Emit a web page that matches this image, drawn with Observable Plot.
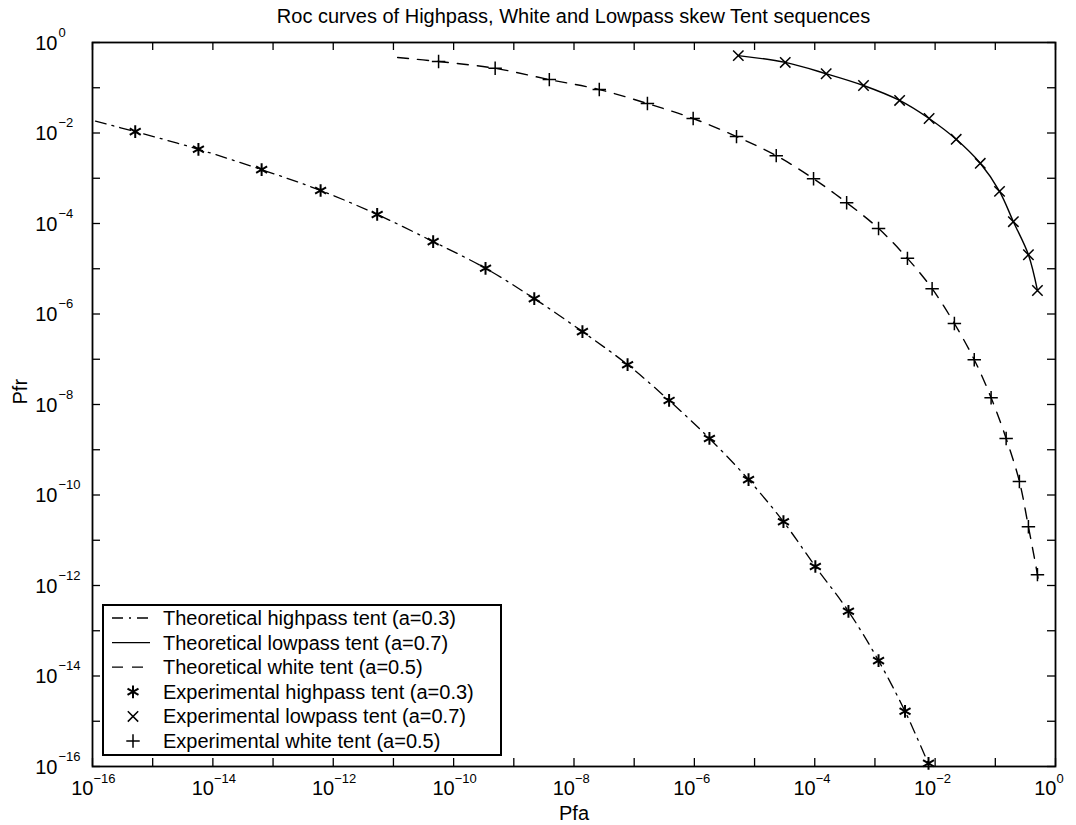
<!DOCTYPE html>
<html><head><meta charset="utf-8">
<script src="https://cdn.jsdelivr.net/npm/d3@7"></script>
<script src="https://cdn.jsdelivr.net/npm/@observablehq/plot@0.6"></script>
<style>
body{margin:0;background:#fff;}
#wrap{position:relative;width:1076px;height:825px;font-family:"Liberation Sans",Arial,Helvetica,sans-serif;color:#000;}
#title{position:absolute;left:0;top:6px;width:1147px;text-align:center;font-size:20px;line-height:20px;white-space:nowrap;}
#chart{position:absolute;left:0;top:0;}
#legend{position:absolute;left:102px;top:604px;}
</style></head>
<body>
<div id="wrap">
  <div id="chart"></div>
  <div id="title">Roc curves of Highpass, White and Lowpass skew Tent sequences</div>
  <div id="legend"></div>
</div>
<script>
// ---- data (log10 values) ----
const titleText = "Roc curves of Highpass, White and Lowpass skew Tent sequences";
const xLabel = "Pfa";
const yLabel = "Pfr";

const highExpPfa = [-15.29,-14.24,-13.19,-12.21,-11.27,-10.34,-9.47,-8.66,-7.86,-7.11,-6.42,-5.75,-5.10,-4.52,-3.99,-3.44,-2.94,-2.50,-2.11];
const highExpPfr = [-1.97,-2.36,-2.81,-3.27,-3.80,-4.40,-4.99,-5.66,-6.39,-7.12,-7.91,-8.75,-9.66,-10.59,-11.58,-12.57,-13.66,-14.78,-15.93];
const highTheoPfa = [-15.95,-15.29,-14.24,-13.19,-12.21,-11.27,-10.34,-9.47,-8.66,-7.86,-7.11,-6.42,-5.75,-5.10,-4.52,-3.99,-3.44,-2.94,-2.50,-2.11,-2.08];
const highTheoPfr = [-1.74,-1.97,-2.36,-2.81,-3.27,-3.80,-4.40,-4.99,-5.66,-6.39,-7.12,-7.91,-8.75,-9.66,-10.59,-11.58,-12.57,-13.66,-14.78,-15.93,-16.0];

const lowExpPfa = [-5.27,-4.49,-3.81,-3.19,-2.59,-2.10,-1.65,-1.25,-0.93,-0.70,-0.45,-0.30];
const lowExpPfr = [-0.29,-0.44,-0.69,-0.95,-1.28,-1.68,-2.14,-2.67,-3.29,-3.96,-4.69,-5.48];
const lowTheoPfa = [-5.27,-4.49,-3.81,-3.19,-2.59,-2.10,-1.65,-1.25,-0.93,-0.70,-0.45,-0.30];
const lowTheoPfr = [-0.29,-0.44,-0.69,-0.95,-1.28,-1.68,-2.14,-2.67,-3.29,-3.96,-4.69,-5.48];

const whiteExpPfa = [-10.25,-9.31,-8.41,-7.58,-6.78,-6.02,-5.30,-4.64,-4.02,-3.47,-2.94,-2.46,-2.05,-1.68,-1.35,-1.07,-0.82,-0.60,-0.45,-0.30];
const whiteExpPfr = [-0.42,-0.57,-0.82,-1.04,-1.35,-1.68,-2.08,-2.50,-3.01,-3.54,-4.11,-4.77,-5.44,-6.21,-7.01,-7.85,-8.75,-9.70,-10.70,-11.76];
const whiteTheoPfa = [-10.93,-10.25,-9.31,-8.41,-7.58,-6.78,-6.02,-5.30,-4.64,-4.02,-3.47,-2.94,-2.46,-2.05,-1.68,-1.35,-1.07,-0.82,-0.60,-0.45,-0.30,-0.29];
const whiteTheoPfr = [-0.33,-0.42,-0.57,-0.82,-1.04,-1.35,-1.68,-2.08,-2.50,-3.01,-3.54,-4.11,-4.77,-5.44,-6.21,-7.01,-7.85,-8.75,-9.70,-10.70,-11.76,-11.85];

const decades = [-16,-15,-14,-13,-12,-11,-10,-9,-8,-7,-6,-5,-4,-3,-2,-1,0];
const labelDecades = [-16,-14,-12,-10,-8,-6,-4,-2,0];

const legendLabels = [
  "Theoretical highpass tent (a=0.3)",
  "Theoretical lowpass tent (a=0.7)",
  "Theoretical white tent (a=0.5)",
  "Experimental highpass tent (a=0.3)",
  "Experimental lowpass tent (a=0.7)",
  "Experimental white tent (a=0.5)"
];

// ---- build tables ----
const toRows = (xs, ys) => xs.map((v, i) => ({pfa: 10 ** v, pfr: 10 ** ys[i]}));
const highExp = toRows(highExpPfa, highExpPfr);
const highTheo = toRows(highTheoPfa, highTheoPfr);
const lowExp = toRows(lowExpPfa, lowExpPfr);
const lowTheo = toRows(lowTheoPfa, lowTheoPfr);
const whiteExp = toRows(whiteExpPfa, whiteExpPfr);
const whiteTheo = toRows(whiteTheoPfa, whiteTheoPfr);

// ---- styles ----
const W = 1076, H = 825, mL = 92, mR = 21, mT = 42, mB = 59;
const plotW = W - mL - mR, plotH = H - mT - mB;
const tickLen = 8;
const FONT = '"Liberation Sans", Arial, Helvetica, sans-serif';
const dashHigh = "11,6,2,6";
const dashWhite = "11,9";
const sym = {asterisk: 6, times: 4.8, plus: 4.4};
const expText = e => (e < 0 ? "\u2212" + (-e) : String(e));

const chart = Plot.plot({
  width: W, height: H,
  marginLeft: mL, marginRight: mR, marginTop: mT, marginBottom: mB,
  x: {type: "log", domain: [1e-16, 1], axis: null},
  y: {type: "log", domain: [1e-16, 1], axis: null},
  style: {fontFamily: FONT, color: "black", background: "white", overflow: "visible"},
  marks: [
    // inward ticks
    Plot.ruleX(decades, {x: d => 10 ** d, insetTop: plotH - tickLen, stroke: "black", strokeWidth: 1.3}),
    Plot.ruleX(decades, {x: d => 10 ** d, insetBottom: plotH - tickLen, stroke: "black", strokeWidth: 1.3}),
    Plot.ruleY(decades, {y: d => 10 ** d, insetRight: plotW - tickLen, stroke: "black", strokeWidth: 1.3}),
    Plot.ruleY(decades, {y: d => 10 ** d, insetLeft: plotW - tickLen, stroke: "black", strokeWidth: 1.3}),
    Plot.frame({stroke: "black", strokeWidth: 1.8}),
    // theoretical curves
    Plot.line(highTheo, {x: "pfa", y: "pfr", stroke: "black", strokeWidth: 1.3, strokeDasharray: dashHigh, curve: "catmull-rom"}),
    Plot.line(lowTheo, {x: "pfa", y: "pfr", stroke: "black", strokeWidth: 1.4, curve: "catmull-rom"}),
    Plot.line(whiteTheo, {x: "pfa", y: "pfr", stroke: "black", strokeWidth: 1.4, strokeDasharray: dashWhite, curve: "catmull-rom"}),
    // experimental markers
    Plot.dot(highExp, {x: "pfa", y: "pfr", symbol: "asterisk", r: sym.asterisk, stroke: "black", strokeWidth: 2}),
    Plot.dot(lowExp, {x: "pfa", y: "pfr", symbol: "times", r: sym.times, stroke: "black", strokeWidth: 1.5}),
    Plot.dot(whiteExp, {x: "pfa", y: "pfr", symbol: "plus", r: sym.plus, stroke: "black", strokeWidth: 1.5}),
    // x tick labels
    Plot.text(labelDecades, {x: d => 10 ** d, text: () => "10", frameAnchor: "bottom", textAnchor: "end", dx: 1, dy: 28, fontSize: 20, fill: "black"}),
    Plot.text(labelDecades, {x: d => 10 ** d, text: d => expText(d), frameAnchor: "bottom", textAnchor: "start", dx: 1, dy: 16, fontSize: 13, fill: "black"}),
    // y tick labels
    Plot.text(labelDecades, {y: d => 10 ** d, text: () => "10", frameAnchor: "left", textAnchor: "end", dx: -35, dy: 1, fontSize: 20, fill: "black"}),
    Plot.text(labelDecades, {y: d => 10 ** d, text: d => expText(d), frameAnchor: "left", textAnchor: "start", dx: -34, dy: -10, fontSize: 13, fill: "black"}),
    // axis labels
    Plot.text([xLabel], {text: d => d, frameAnchor: "bottom", dy: 53, fontSize: 20, fill: "black"}),
    Plot.text([yLabel], {text: d => d, frameAnchor: "left", dx: -72, rotate: -90, fontSize: 20, fill: "black"})
  ]
});
document.getElementById("chart").appendChild(chart);
document.getElementById("title").textContent = titleText;

// ---- legend ----
const LW = 400, LH = 152;
const lg = d3.select("#legend").append("svg").attr("width", LW).attr("height", LH)
  .style("font-family", FONT).style("overflow", "visible");
lg.append("rect").attr("x", 1).attr("y", 1).attr("width", LW - 2).attr("height", LH - 2)
  .attr("fill", "white").attr("stroke", "black").attr("stroke-width", 2);
const rowBase = i => 21 + i * 24.6;
const styles = [
  {dash: dashHigh}, {dash: null}, {dash: dashWhite},
  {symbol: d3.symbolAsterisk, r: sym.asterisk, sw: 2},
  {symbol: d3.symbolTimes, r: sym.times, sw: 1.5},
  {symbol: d3.symbolPlus, r: sym.plus, sw: 1.5}
];
legendLabels.forEach((lab, i) => {
  const cy = rowBase(i) - 7;
  const s = styles[i];
  if (s.symbol) {
    lg.append("path")
      .attr("d", d3.symbol(s.symbol, Math.PI * s.r * s.r)())
      .attr("transform", `translate(31,${cy})`)
      .attr("fill", "none").attr("stroke", "black").attr("stroke-width", s.sw);
  } else {
    lg.append("line").attr("x1", 10).attr("x2", 48).attr("y1", cy).attr("y2", cy)
      .attr("stroke", "black").attr("stroke-width", 1.3)
      .attr("stroke-dasharray", s.dash);
  }
  lg.append("text").attr("x", 61).attr("y", rowBase(i)).attr("font-size", 20).attr("fill", "black").text(lab);
});
</script>
</body></html>
